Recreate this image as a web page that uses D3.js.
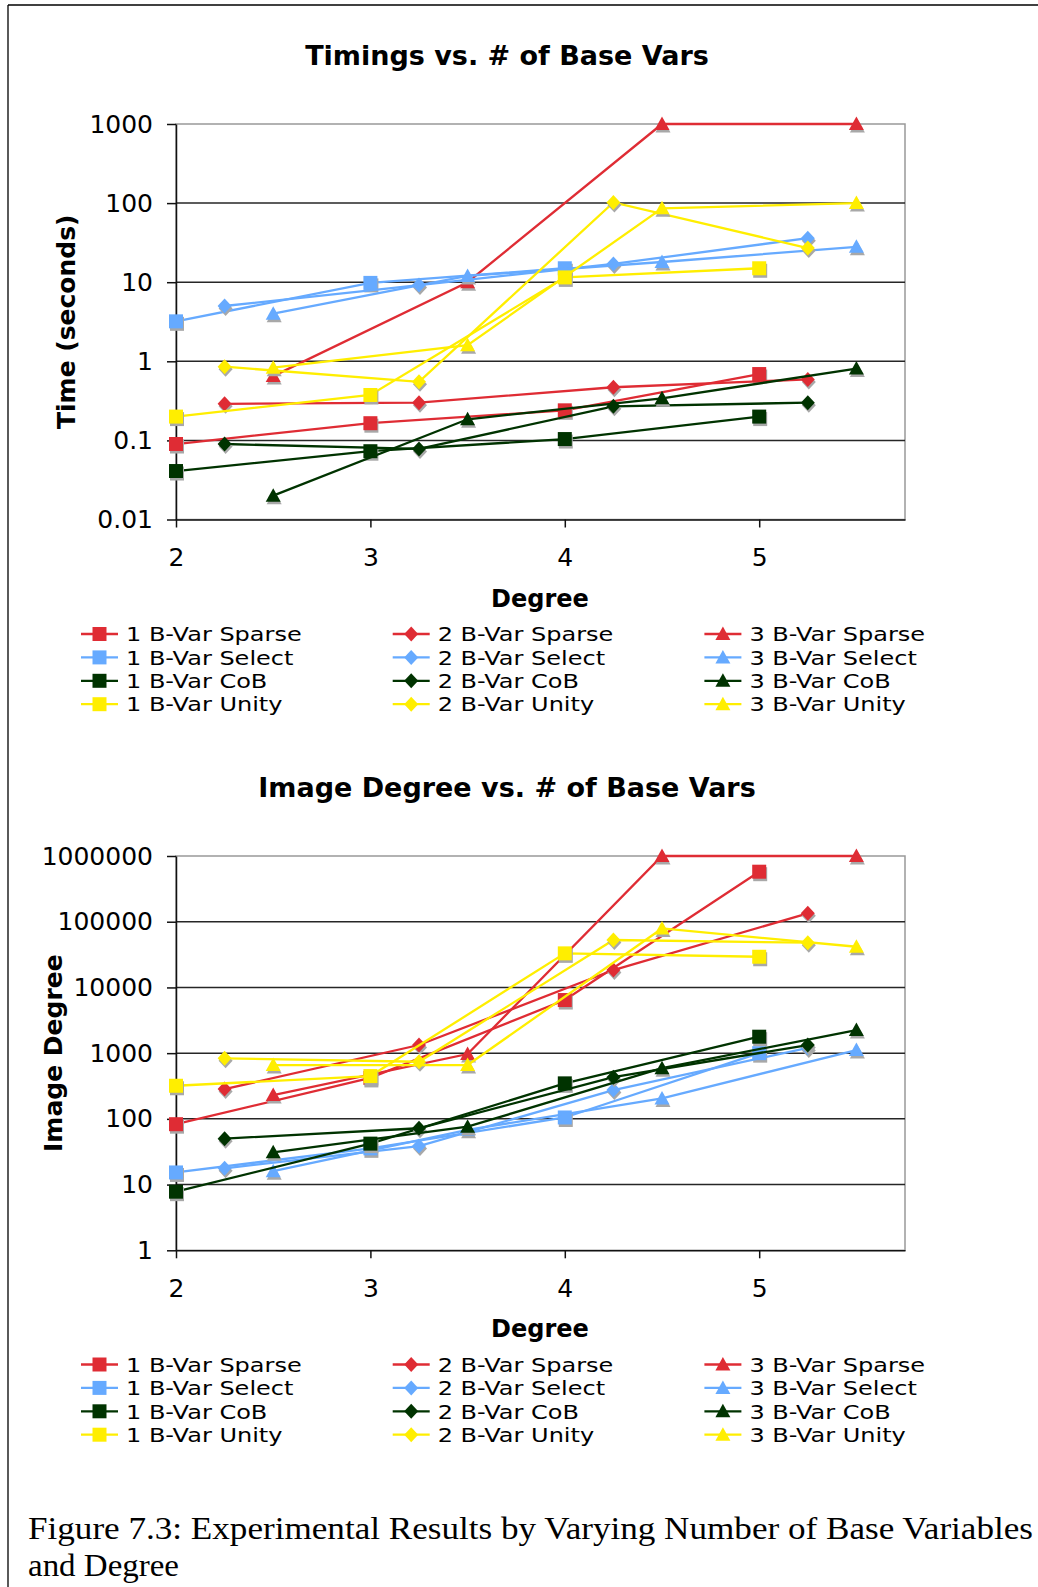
<!DOCTYPE html>
<html>
<head>
<meta charset="utf-8">
<script src="https://cdn.jsdelivr.net/npm/d3@7/dist/d3.min.js"></script>
<style>
body { margin: 0; background: #fff; }
svg text { font-family: "DejaVu Sans", Verdana, sans-serif; fill: #000; }
</style>
</head>
<body>
<svg id="fig" width="1038" height="1587"></svg>
<script>

// x positions: 1, 2 and 3 base vars are offset by a quarter degree
var degrees1 = [2, 3, 4, 5];
var degrees2 = [2.25, 3.25, 4.25, 5.25];
var degrees3 = [2.5, 3.5, 4.5, 5.5];
var xTicks = [2, 3, 4, 5];

var seriesNames = ['1 B-Var Sparse', '2 B-Var Sparse', '3 B-Var Sparse',
                   '1 B-Var Select', '2 B-Var Select', '3 B-Var Select',
                   '1 B-Var CoB', '2 B-Var CoB', '3 B-Var CoB',
                   '1 B-Var Unity', '2 B-Var Unity', '3 B-Var Unity'];
var seriesColors = ['#df2c34', '#df2c34', '#df2c34',
                    '#66aaff', '#66aaff', '#66aaff',
                    '#003300', '#003300', '#003300',
                    '#ffee00', '#ffee00', '#ffee00'];
var seriesShapes = ['square', 'diamond', 'triangle',
                    'square', 'diamond', 'triangle',
                    'square', 'diamond', 'triangle',
                    'square', 'diamond', 'triangle'];

// Timings (seconds)
var time1Sparse = [0.09, 0.165, 0.24, 0.69];
var time2Sparse = [0.29, 0.30, 0.47, 0.59];
var time3Sparse = [0.65, 10, 1000, 1000];
var time1Select = [3.2, 9.8, 15];
var time2Select = [5.0, 9.2, 17, 36];
var time3Select = [4.0, 12, 18, 28];
var time1CoB = [0.041, 0.073, 0.104, 0.20];
var time2CoB = [0.09, 0.078, 0.27, 0.30];
var time3CoB = [0.02, 0.185, 0.34, 0.81];
var time1Unity = [0.2, 0.375, 11.5, 15];
var time2Unity = [0.855, 0.55, 102, 27];
var time3Unity = [0.83, 1.6, 86, 100];
var timeTicks = [0.01, 0.1, 1, 10, 100, 1000];

// Image degree
var img1Sparse = [83, 420, 6430, 577000];
var img2Sparse = [284, 1330, 18400, 134000];
var img3Sparse = [230, 970, 1000000, 1000000];
var img1Select = [15.3, 35.6, 105, 1000];
var img2Select = [17.7, 38.5, 274, 1200];
var img3Select = [16, 68, 205, 1115];
var img1CoB = [7.8, 42, 347, 1780];
var img2CoB = [50, 72, 430, 1330];
var img3CoB = [31, 76, 590, 2250];
var img1Unity = [319, 448, 33000, 29300];
var img2Unity = [834, 740, 52700, 47900];
var img3Unity = [659, 659, 79000, 41600];
var imgTicks = [1, 10, 100, 1000, 10000, 100000, 1000000];

var xsBySeries = [degrees1, degrees2, degrees3];

var svg = d3.select('#fig');

function markerPath(shape) {
    if (shape == 'square') return 'M-7,-7H7V7H-7Z';
    if (shape == 'diamond') return 'M0,-7.5L7,0L0,7.5L-7,0Z';
    return 'M0,-7.5L7.5,6L-7.5,6Z';
}

function drawMarker(g, shape, color, x, y) {
    g.append('path').attr('d', markerPath(shape))
        .attr('fill', '#a8a8a8')
        .attr('transform', 'translate(' + (x + 1) + ',' + (y + 2.5) + ')');
    g.append('path').attr('d', markerPath(shape))
        .attr('fill', color)
        .attr('transform', 'translate(' + x + ',' + y + ')');
}

function plotChart(c) {
    var g = svg.append('g');

    var x = d3.scaleLinear().domain([2, 5.75]).range([176, 905]);
    var y = d3.scaleLog().domain([c.ticks[0], c.ticks[c.ticks.length - 1]]).range([c.bottom, c.top]);

    // plot frame and grid
    g.append('rect').attr('x', 176).attr('y', c.top).attr('width', 905 - 176).attr('height', c.bottom - c.top)
        .attr('fill', 'none').attr('stroke', '#999').attr('stroke-width', 1.5);
    g.selectAll('line.grid').data(c.ticks.slice(1, -1)).enter().append('line')
        .attr('class', 'grid')
        .attr('x1', 176).attr('x2', 905)
        .attr('y1', function(d) { return y(d); }).attr('y2', function(d) { return y(d); })
        .attr('stroke', '#262626').attr('stroke-width', 1.5);

    var yAxis = g.append('g').attr('transform', 'translate(176,0)')
        .call(d3.axisLeft(y).tickValues(c.ticks).tickFormat(function(d) { return String(d); })
            .tickSize(9).tickSizeOuter(0).tickPadding(14));
    var xAxis = g.append('g').attr('transform', 'translate(0,' + c.bottom + ')')
        .call(d3.axisBottom(x).tickValues(xTicks).tickFormat(d3.format('d'))
            .tickSize(8).tickSizeOuter(0).tickPadding(21));
    [yAxis, xAxis].forEach(function(a) {
        a.selectAll('path').attr('stroke', '#111').attr('stroke-width', 1.5);
        a.selectAll('line').attr('stroke', '#111').attr('stroke-width', 1.5);
        a.selectAll('text').attr('font-size', 25).attr('font-family', '"DejaVu Sans", Verdana, sans-serif');
    });

    // titles
    g.append('text').attr('x', 507).attr('y', c.top - 59).attr('text-anchor', 'middle')
        .attr('font-size', 27).attr('font-weight', 'bold').text(c.title);
    g.append('text').attr('x', 540).attr('y', c.bottom + 87).attr('text-anchor', 'middle')
        .attr('font-size', 24).attr('font-weight', 'bold').text('Degree');
    g.append('text').attr('text-anchor', 'middle').attr('dy', '0.35em')
        .attr('transform', 'translate(' + c.yTitleX + ',' + ((c.top + c.bottom) / 2) + ') rotate(-90)')
        .attr('font-size', 25).attr('font-weight', 'bold').text(c.yTitle);

    var line = d3.line().x(function(d) { return x(d[0]); }).y(function(d) { return y(d[1]); });

    c.series.forEach(function(vals, i) {
        var xs = xsBySeries[i % 3];
        var pts = vals.map(function(v, j) { return [xs[j], v]; });
        var sg = g.append('g');
        sg.append('path').datum(pts).attr('d', line)
            .attr('fill', 'none').attr('stroke', seriesColors[i]).attr('stroke-width', 2.3);
        pts.forEach(function(p) {
            drawMarker(sg, seriesShapes[i], seriesColors[i], x(p[0]), y(p[1]));
        });
    });

    // legend, three columns, filled row by row
    var lg = g.append('g');
    seriesNames.forEach(function(name, i) {
        var col = i % 3, row = Math.floor(i / 3);
        var lx = 81 + col * 311.7, ly = c.legendTop + row * 23.4;
        lg.append('line').attr('x1', lx).attr('x2', lx + 37).attr('y1', ly).attr('y2', ly)
            .attr('stroke', seriesColors[i]).attr('stroke-width', 2.3);
        lg.append('path').attr('d', markerPath(seriesShapes[i]))
            .attr('fill', seriesColors[i])
            .attr('transform', 'translate(' + (lx + 18.5) + ',' + ly + ')');
        // text in the original is stretched wide; keep its width but a shorter height
        var t = lg.append('text').attr('x', lx + 45).attr('y', ly).attr('dy', '0.36em')
            .attr('font-size', 20).text(name);
        var w = t.node().getComputedTextLength();
        t.attr('textLength', w * 24 / 20).attr('lengthAdjust', 'spacingAndGlyphs');
    });
}

plotChart({
    title: 'Timings vs. # of Base Vars', yTitle: 'Time (seconds)', yTitleX: 66,
    top: 124, bottom: 519.5, ticks: timeTicks, legendTop: 634,
    series: [time1Sparse, time2Sparse, time3Sparse, time1Select, time2Select, time3Select,
             time1CoB, time2CoB, time3CoB, time1Unity, time2Unity, time3Unity]
});

plotChart({
    title: 'Image Degree vs. # of Base Vars', yTitle: 'Image Degree', yTitleX: 53,
    top: 856, bottom: 1250.3, ticks: imgTicks, legendTop: 1364.5,
    series: [img1Sparse, img2Sparse, img3Sparse, img1Select, img2Select, img3Select,
             img1CoB, img2CoB, img3CoB, img1Unity, img2Unity, img3Unity]
});

// page frame (left and top edges only are visible)
svg.append('line').attr('x1', 8).attr('x2', 8).attr('y1', 5).attr('y2', 1587).attr('stroke', '#000').attr('stroke-width', 1.3);
svg.append('line').attr('x1', 8).attr('x2', 1038).attr('y1', 5).attr('y2', 5).attr('stroke', '#000').attr('stroke-width', 1.3);

// caption
svg.append('text').attr('x', 28).attr('y', 1539).attr('font-size', 31)
    .style('font-family', '"Liberation Serif", serif')
    .attr('textLength', 1005).attr('lengthAdjust', 'spacingAndGlyphs')
    .text('Figure 7.3: Experimental Results by Varying Number of Base Variables');
svg.append('text').attr('x', 28).attr('y', 1576).attr('font-size', 31)
    .style('font-family', '"Liberation Serif", serif')
    .attr('textLength', 151).attr('lengthAdjust', 'spacingAndGlyphs')
    .text('and Degree');

</script>
</body>
</html>
